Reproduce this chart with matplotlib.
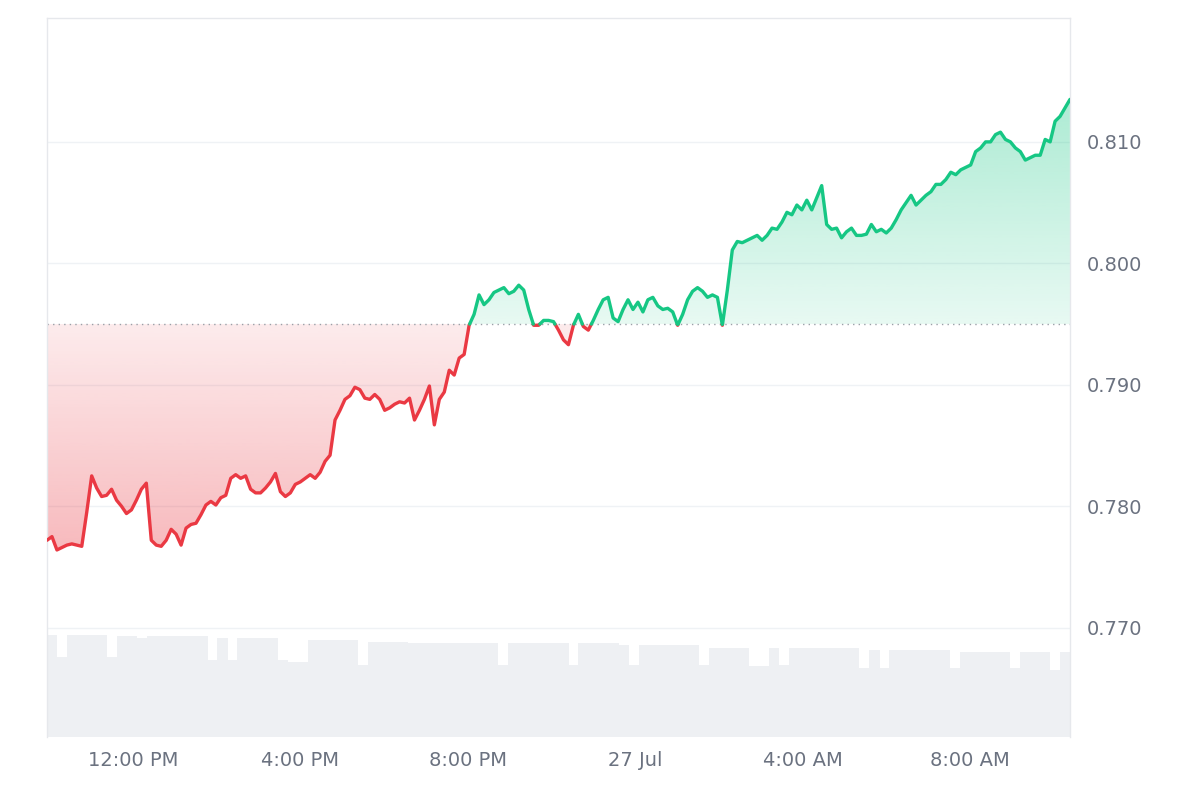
import numpy as np
import matplotlib
matplotlib.use("Agg")
import matplotlib.pyplot as plt
from matplotlib.colors import to_rgb

# hours relative to 12:00 PM, 26 Jul
t_start, t_end = -2.05, 22.39
prices = [0.7772,0.7775,0.7764,0.7766,0.7768,0.7769,0.7768,0.7767,0.7795,0.7825,0.7815,0.7808,0.7809,0.7814,
0.7805,0.7800,0.7794,0.7797,0.7805,0.7814,0.7819,0.7772,0.7768,0.7767,0.7772,0.7781,0.7777,0.7768,0.7782,0.7785,
0.7786,0.7793,0.7801,0.7804,0.7801,0.7807,0.7809,0.7823,0.7826,0.7823,0.7825,0.7814,0.7811,0.7811,0.7815,0.7820,
0.7827,0.7812,0.7808,0.7811,0.7818,0.7820,0.7823,0.7826,0.7823,0.7828,0.7837,0.7842,0.7871,0.7879,0.7888,0.7891,
0.7898,0.7896,0.7889,0.7888,0.7892,0.7888,0.7879,0.7881,0.7884,0.7886,0.7885,0.7889,0.7871,0.7879,0.7888,0.7899,
0.7867,0.7888,0.7894,0.7912,0.7908,0.7922,0.7925,0.7949,0.7958,0.7974,0.7966,0.7970,0.7976,0.7978,0.7980,0.7975,
0.7977,0.7982,0.7978,0.7962,0.7949,0.7949,0.7953,0.7953,0.7952,0.7945,0.7937,0.7933,0.7949,0.7958,0.7948,0.7945,
0.7953,0.7962,0.7970,0.7972,0.7955,0.7952,0.7962,0.7970,0.7962,0.7968,0.7960,0.7970,0.7972,0.7965,0.7962,0.7963,
0.7960,0.7949,0.7958,0.7970,0.7977,0.7980,0.7977,0.7972,0.7974,0.7972,0.7949,0.7978,0.8011,0.8018,0.8017,0.8019,
0.8021,0.8023,0.8019,0.8023,0.8029,0.8028,0.8034,0.8042,0.8040,0.8048,0.8044,0.8052,0.8044,0.8054,0.8064,0.8032,
0.8028,0.8029,0.8021,0.8026,0.8029,0.8023,0.8023,0.8024,0.8032,0.8026,0.8028,0.8025,0.8029,0.8036,0.8044,0.8050,
0.8056,0.8048,0.8052,0.8056,0.8059,0.8065,0.8065,0.8069,0.8075,0.8073,0.8077,0.8079,0.8081,0.8092,0.8095,0.8100,
0.8100,0.8106,0.8108,0.8102,0.8100,0.8095,0.8092,0.8085,0.8087,0.8089,0.8089,0.8102,0.8100,0.8117,0.8121,0.8128,0.8135]
volumes = [102,80,102,102,102,102,80,101,101,99,101,101,101,101,101,101,77,99,77,99,99,99,99,77,75,75,97,97,97,97,
97,72,95,95,95,95,94,94,94,94,94,94,94,94,94,72,94,94,94,94,94,94,72,94,94,94,94,92,72,92,92,92,92,92,92,72,89,89,
89,89,71,71,89,72,89,89,89,89,89,89,89,69,87,69,87,87,87,87,87,87,69,85,85,85,85,85,69,85,85,85,67,85]
baseline = 0.795
price_ticks = [0.770, 0.780, 0.790, 0.800, 0.810]
time_ticks = [0, 4, 8, 12, 16, 20]
time_labels = ["12:00 PM", "4:00 PM", "8:00 PM", "27 Jul", "4:00 AM", "8:00 AM"]

RED = "#ea3943"; GREEN = "#16c784"; GRID = "#eff2f5"; TXT = "#6b7280"
ymin, ymax = 0.7610, 0.8202

t = np.linspace(t_start, t_end, len(prices))
p = np.array(prices)
tt, pp = [t[0]], [p[0]]
for i in range(1, len(p)):
    a, b = p[i-1] - baseline, p[i] - baseline
    if a * b < 0:
        f = a / (a - b)
        tt.append(t[i-1] + f * (t[i] - t[i-1])); pp.append(baseline)
    tt.append(t[i]); pp.append(p[i])
tt, pp = np.array(tt), np.array(pp)

fig = plt.figure(figsize=(12, 8), dpi=100)
ax = fig.add_axes([47/1200, 63/800, 1023/1200, 719/800])
axv = ax.twinx()
axv.set_zorder(0); ax.set_zorder(1); ax.patch.set_visible(False)

bw = (t_end - t_start) / len(volumes)
vt = t_start + bw * (np.arange(len(volumes)) + 0.5)
axv.bar(vt, volumes, width=bw * 1.02, color="#eef0f3", linewidth=0)
axv.set_ylim(0, 719)
axv.set_yticks([]); axv.set_xlim(t_start, t_end)
for s in axv.spines.values(): s.set_visible(False)

ax.set_xlim(t_start, t_end); ax.set_ylim(ymin, ymax)
for yv in price_ticks:
    ax.axhline(yv, color=GRID, lw=1, zorder=0)

def grad_fill(up, color, extreme):
    n = 256
    ys = np.linspace(ymin, ymax, n)
    if up:
        vals = np.clip((ys - baseline) / (extreme - baseline), 0, 1)
    else:
        vals = np.clip((baseline - ys) / (baseline - extreme), 0, 1)
    rgba = np.zeros((n, 1, 4))
    rgba[:, 0, :3] = to_rgb(color)
    rgba[:, 0, 3] = 0.1 + 0.25 * vals
    img = ax.imshow(rgba, extent=[t_start, t_end, ymin, ymax], origin="lower",
                    aspect="auto", zorder=1, interpolation="bilinear")
    lim = np.maximum(pp, baseline) if up else np.minimum(pp, baseline)
    poly = ax.fill_between(tt, baseline, lim, color="none", lw=0)
    img.set_clip_path(poly.get_paths()[0], transform=ax.transData)

grad_fill(True, GREEN, p.max())
grad_fill(False, RED, p.min())

ax.plot(tt, np.where(pp <= baseline, pp, np.nan), color=RED, lw=2.4, zorder=3, solid_capstyle="round")
ax.plot(tt, np.where(pp >= baseline, pp, np.nan), color=GREEN, lw=2.4, zorder=3, solid_capstyle="round")
ax.axhline(baseline, color="#9aa0a8", lw=1, ls=(0, (1, 3)), zorder=2)

ax.yaxis.tick_right()
ax.set_yticks(price_ticks)
ax.set_yticklabels([f"{v:.3f}" for v in price_ticks], color=TXT, fontsize=14)
ax.set_xticks(time_ticks)
ax.set_xticklabels(time_labels, color=TXT, fontsize=14)
ax.tick_params(length=0, pad=10)
ax.tick_params(axis="y", pad=12)
for k, s in ax.spines.items():
    s.set_color("#e6e8ec"); s.set_linewidth(1)
ax.spines["bottom"].set_visible(False)
fig.savefig("out.png", dpi=100, facecolor="white")
